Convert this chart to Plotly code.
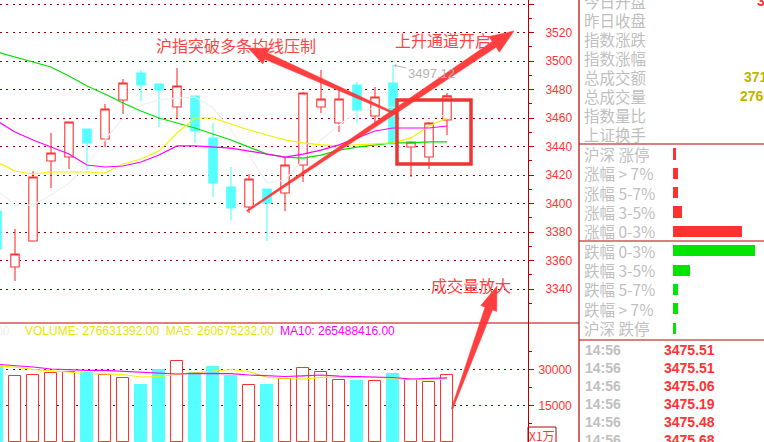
import math
import plotly.graph_objects as go

W, H = 764, 442

# ---------------- data ----------------
days = list(range(26))
opens = [3394.7, 3355.4, 3373.7, 3429.8, 3432.6, 3452.3, 3445.3, 3472.6, 3491.6, 3483.9,
         3467.7, 3475.4, 3446.0, 3411.6, 3397.5, 3410.2, 3407.4, 3427.0, 3467.7, 3456.5,
         3483.2, 3461.4, 3484.6, 3439.6, 3432.6, 3458.6]
highs = [3398.0, 3382.1, 3422.8, 3449.5, 3457.2, 3452.3, 3469.8, 3487.4, 3493.7, 3483.9,
         3495.1, 3475.4, 3456.5, 3425.6, 3420.7, 3410.2, 3432.6, 3478.2, 3493.7, 3481.8,
         3485.3, 3481.8, 3497.12, 3443.5, 3457.2, 3477.5]
lows = [3366.0, 3345.6, 3373.5, 3410.9, 3424.2, 3423.5, 3439.6, 3462.8, 3471.9, 3453.7,
        3460.0, 3442.5, 3404.6, 3388.4, 3393.3, 3373.7, 3394.7, 3415.1, 3463.5, 3450.2,
        3456.5, 3455.1, 3441.5, 3418.6, 3424.2, 3448.1]
closes = [3368.1, 3364.6, 3418.6, 3435.4, 3457.2, 3442.5, 3466.3, 3484.6, 3483.2, 3479.6,
          3482.5, 3450.9, 3414.4, 3396.8, 3417.2, 3400.4, 3427.0, 3477.5, 3473.3, 3473.3,
          3465.6, 3474.7, 3441.8, 3443.2, 3456.5, 3475.51]

ma_white = [3409.5, 3398.9, 3398.9, 3406.0, 3414.4, 3427.0, 3444.6, 3460.0, 3469.1, 3472.6,
            3474.0, 3474.7, 3467.0, 3451.6, 3434.0, 3414.4, 3416.5, 3430.5, 3444.6, 3455.1,
            3464.2, 3467.0, 3467.7, 3463.5, 3460.0, 3462.1]
ma_yellow = [3429.1, 3422.8, 3420.7, 3422.1, 3422.1, 3422.1, 3421.4, 3427.7, 3431.2, 3436.8,
             3449.5, 3460.0, 3460.0, 3455.8, 3451.6, 3448.1, 3444.6, 3442.5, 3441.1, 3440.4,
             3441.1, 3441.8, 3442.5, 3446.0, 3454.4, 3460.0]
ma_magenta = [3457.9, 3450.2, 3444.6, 3439.6, 3434.7, 3427.0, 3425.6, 3426.3, 3429.1, 3434.0,
              3440.4, 3440.4, 3439.6, 3438.9, 3436.8, 3434.7, 3432.6, 3434.7, 3437.5, 3441.1,
              3446.0, 3450.9, 3453.0, 3453.0, 3453.0, 3454.4]
ma_green = [3506.3, 3502.8, 3499.3, 3495.8, 3489.5, 3482.5, 3476.8, 3470.5, 3464.9, 3460.0,
            3456.5, 3453.0, 3448.8, 3444.6, 3439.6, 3434.7, 3432.6, 3431.9, 3434.0, 3437.5,
            3439.6, 3441.1, 3442.5, 3442.5, 3443.2, 3443.2]

# volume in 万
volume = [31875, 27170, 27710, 28420, 28830, 28670, 27710, 26460, 23670, 29790,
          33420, 28670, 31040, 27290, 23420, 23670, 26040, 30630, 28830, 25630,
          25210, 25210, 28130, 25630, 24790, 27663.1392]
vol_ma5 = [31460, 30960, 30090, 29460, 28830, 28330, 28130, 27920, 26880, 27090,
           28000, 28750, 29380, 30000, 29170, 26750, 26250, 25960, 26750, 26960,
           26880, 26670, 26540, 25920, 25630, 26067.5232]
vol_ma10 = [32170, 31670, 31040, 30210, 29790, 29670, 29670, 29250, 28710, 28330,
            28130, 28420, 28330, 28250, 27710, 27380, 27090, 27380, 27710, 27210,
            27000, 26880, 26670, 26040, 26300, 26548.8416]

price_ticks = [3340, 3360, 3380, 3400, 3420, 3440, 3460, 3480, 3500, 3520, 3540]
price_minor = [3330, 3350, 3370, 3390, 3410, 3430, 3450, 3470, 3490, 3510, 3530]
vol_ticks = [15000, 30000]
vol_tick_labels = ["15000", "30000"]
vol_minor = [7500, 22500, 37500]

stat_labels = ["今日开盘", "昨日收盘", "指数涨跌", "指数涨幅", "总成交额", "总成交量", "指数量比", "上证换手"]
breadth_labels = ["沪深 涨停", "涨幅 > 7%", "涨幅 5-7%", "涨幅 3-5%", "涨幅 0-3%",
                  "跌幅 0-3%", "跌幅 3-5%", "跌幅 5-7%", "跌幅 > 7%", "沪深 跌停"]
breadth_counts = [33, 47, 47, 93, 693, 823, 173, 53, 47, 33]
tick_times = ["14:56", "14:56", "14:56", "14:56", "14:56", "14:56"]
tick_prices = ["3475.51", "3475.51", "3475.06", "3475.19", "3475.48", "3475.68"]

# ---------------- styles ----------------
RED = "#ff3232"
CYAN = "#55ffff"
AXIS = "#b80000"
GRID = "#990000"
CJK = "Noto Sans CJK SC"
NUM = "Liberation Sans"


def px(x):
    return x / W


def py(y):
    return 1 - y / H


fig = go.Figure()

fig.add_trace(go.Candlestick(
    x=days, open=opens, high=highs, low=lows, close=closes,
    increasing=dict(line=dict(color=RED, width=1.1), fillcolor="white"),
    decreasing=dict(line=dict(color=CYAN, width=1.1), fillcolor=CYAN),
    xaxis="x", yaxis="y", hoverinfo="skip"))

for vals, col in [(ma_white, "#f0f0f0"), (ma_green, "#00e000"),
                  (ma_yellow, "#f2f200"), (ma_magenta, "#ff00ff")]:
    fig.add_trace(go.Scatter(x=days, y=vals, mode="lines", line=dict(color=col, width=1.2),
                             xaxis="x", yaxis="y", hoverinfo="skip"))

up = [c >= o for o, c in zip(opens, closes)]
fig.add_trace(go.Bar(
    x=days, y=volume, width=0.667,
    marker=dict(color=["white" if u else CYAN for u in up],
                line=dict(color=[RED if u else CYAN for u in up], width=1)),
    xaxis="x2", yaxis="y2", hoverinfo="skip"))
fig.add_trace(go.Scatter(x=days, y=vol_ma5, mode="lines", line=dict(color="#f2f200", width=1.2),
                         xaxis="x2", yaxis="y2", hoverinfo="skip"))
fig.add_trace(go.Scatter(x=days, y=vol_ma10, mode="lines", line=dict(color="#ff00ff", width=1.2),
                         xaxis="x2", yaxis="y2", hoverinfo="skip"))

fig.add_trace(go.Bar(
    x=breadth_counts, y=list(range(len(breadth_counts))), orientation="h", width=0.57,
    marker=dict(color=[RED] * 5 + ["#00e600"] * 5, line=dict(width=0)),
    xaxis="x3", yaxis="y3", hoverinfo="skip"))

XR = [3 / 18, 531 / 18]
main_dom = [py(323), 1]

fig.update_layout(
    width=W, height=H, margin=dict(l=0, r=0, t=0, b=0),
    paper_bgcolor="white", plot_bgcolor="white",
    showlegend=False, hovermode=False, boxgap=1 / 3, bargap=0,
    xaxis=dict(domain=[0, px(528)], range=XR, visible=False, rangeslider=dict(visible=False)),
    yaxis=dict(domain=main_dom, range=[3316.14, 3542.81], side="right", anchor="x",
               showline=True, linecolor=AXIS, linewidth=1, mirror=False,
               ticks="outside", ticklen=5, tickcolor=AXIS, tickwidth=1,
               tickvals=price_ticks, ticktext=[str(t) for t in price_ticks],
               tickfont=dict(family=NUM, size=12, color="#ff3333"), ticklabelstandoff=9,
               showgrid=True, gridcolor=GRID, gridwidth=1.3, griddash="2px,4.3px", zeroline=False,
               minor=dict(tickvals=price_minor, ticklen=3, tickcolor=AXIS, showgrid=False)),
    xaxis2=dict(domain=[0, px(528)], range=XR, visible=False, anchor="y2"),
    yaxis2=dict(domain=[0, py(323)], range=[-208, 49375], side="right", anchor="x2",
                showline=True, linecolor=AXIS, linewidth=1,
                ticks="outside", ticklen=5, tickcolor=AXIS, tickwidth=1,
                tickvals=vol_ticks, ticktext=vol_tick_labels,
                tickfont=dict(family=NUM, size=12, color="#ff3333"), ticklabelstandoff=2,
                showgrid=True, gridcolor=GRID, gridwidth=1.3, griddash="2px,4.3px", zeroline=False,
                minor=dict(tickvals=vol_minor, ticklen=3, tickcolor=AXIS, showgrid=False)),
    xaxis3=dict(domain=[px(673), 1], range=[0, 910], visible=False, anchor="y3"),
    yaxis3=dict(domain=[py(340), py(144)], range=[9.62, -0.517], visible=False, anchor="x3"),
)

shapes = []


def seg(x0, y0, x1, y1, color=AXIS, w=1.2):
    shapes.append(dict(type="line", xref="paper", yref="paper",
                       x0=px(x0), y0=py(y0), x1=px(x1), y1=py(y1),
                       line=dict(color=color, width=w)))


seg(579, 0, 579, 442)
seg(0, 323, 579, 323)
seg(579, 144, 764, 144)
seg(579, 241, 764, 241)
seg(579, 340, 764, 340)

# x1万 box
shapes.append(dict(type="rect", xref="paper", yref="paper", x0=px(528), y0=py(443), x1=px(556), y1=py(427),
                   line=dict(color=AXIS, width=1)))
# highlight box
shapes.append(dict(type="rect", xref="paper", yref="paper", x0=px(397), y0=py(164), x1=px(471), y1=py(100),
                   line=dict(color="#ee3535", width=3.5)))


def arrow(x0, y0, x1, y1, w0, w1, hl, hw, color="#ff3535"):
    dx, dy = x1 - x0, y1 - y0
    L = math.hypot(dx, dy)
    ux, uy = dx / L, dy / L
    nx, ny = -uy, ux
    bx, by = x1 - ux * hl, y1 - uy * hl
    pts = [(x0 + nx * w0 / 2, y0 + ny * w0 / 2), (bx + nx * w1 / 2, by + ny * w1 / 2),
           (bx + nx * hw / 2, by + ny * hw / 2), (x1, y1),
           (bx - nx * hw / 2, by - ny * hw / 2), (bx - nx * w1 / 2, by - ny * w1 / 2),
           (x0 - nx * w0 / 2, y0 - ny * w0 / 2)]
    path = "M " + " L ".join(f"{px(a):.5f},{py(b):.5f}" for a, b in pts) + " Z"
    shapes.append(dict(type="path", xref="paper", yref="paper", path=path,
                       fillcolor=color, line=dict(color=color, width=0.5), opacity=0.95))


arrow(247, 211, 514, 31, 1.5, 7, 24, 19)
arrow(396, 114, 248, 48, 1.5, 7, 20, 17)
arrow(452, 409, 497, 286, 1.5, 8, 24, 17)

fig.update_layout(shapes=shapes)

ann = []


def text(x, y, s, color, size=15, family=CJK, anchor="left", bold=False, yref="paper"):
    ann.append(dict(xref="paper", yref=yref, x=px(x), y=(py(y) if yref == "paper" else y),
                    text=(f"<b>{s}</b>" if bold else s), showarrow=False,
                    xanchor=anchor, yanchor="middle",
                    font=dict(family=family, size=size, color=color)))


text(236, 45, "沪指突破多条均线压制", "#ff4343", 16, anchor="center")
text(443, 40, "上升通道开启", "#ff4343", 16, anchor="center")
text(471, 285, "成交量放大", "#ff4343", 16, anchor="center")

# high label
ann.append(dict(xref="x", yref="y", x=22, y=highs[22], text="3497.12", showarrow=True,
                ax=38, ay=8, arrowhead=1, arrowsize=0.7, arrowwidth=1, arrowcolor="#b4b4b4",
                standoff=1, font=dict(family=NUM, size=13, color="#b4b4b4")))

# volume header
text(12, 331, "00", "#eeeeee", 12, NUM, anchor="right")
text(23, 331, f"VOLUME: {volume[-1] * 10000:.2f}  MA5: {vol_ma5[-1] * 10000:.2f}", "#e6e600", 12, NUM)
text(278, 331, f"MA10: {vol_ma10[-1] * 10000:.2f}", "#ff00ff", 12, NUM)

text(542, 435, "X1万", "#ff3333", 12, CJK, anchor="center")

# info panel
for k, lab in enumerate(stat_labels):
    text(582, 1.5 + 18.9 * k, lab, "#c0c0c0", 15.5)
text(755, 1.5, "3441.80", "#ff3333", 14, NUM, bold=True)
text(742, 1.5 + 18.9 * 4, "3717.52亿", "#c0b400", 14, NUM, bold=True)
text(738, 1.5 + 18.9 * 5, "27663.14万", "#c0b400", 14, NUM, bold=True)

for k, lab in enumerate(breadth_labels):
    text(582, k, lab, "#c0c0c0", 15.5, yref="y3")

for k, (t, p) in enumerate(zip(tick_times, tick_prices)):
    text(583, 350 + 18 * k, t, "#c0c0c0", 14, NUM, bold=True)
    text(662, 350 + 18 * k, p, "#ff3333", 14, NUM, bold=True)

fig.update_layout(annotations=ann)

fig.write_html("out.html", config={"displayModeBar": False},
               post_script="document.body.style.margin='0';document.body.style.padding='0';")
